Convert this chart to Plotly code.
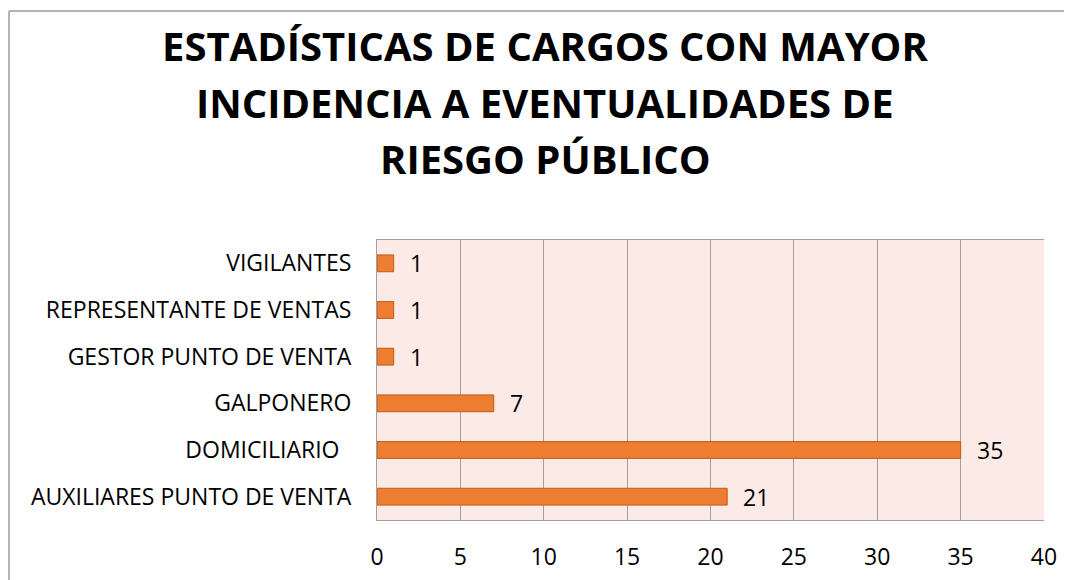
import plotly.graph_objects as go

categories = ["AUXILIARES PUNTO DE VENTA", "DOMICILIARIO\u00a0\u00a0", "GALPONERO",
              "GESTOR PUNTO DE VENTA", "REPRESENTANTE DE VENTAS", "VIGILANTES"]
values = [21, 35, 7, 1, 1, 1]
x_ticks = [0, 5, 10, 15, 20, 25, 30, 35, 40]
title_lines = ["ESTADÍSTICAS DE CARGOS CON MAYOR", "INCIDENCIA A EVENTUALIDADES DE", "RIESGO PÚBLICO"]

FONT = "Open Sans"
W, H = 1072, 580
OFF = 8  # page body margin
L, R, T, B = 369, 36, 232, 68
pw = W - L - R
ph = H - T - B

def px(xs):
    return (xs - OFF - L) / pw

def py(ys):
    return 1 + (T - (ys - OFF)) / ph

fig = go.Figure()
fig.add_trace(go.Bar(
    x=values, y=categories, orientation="h",
    marker=dict(color="#ED7D31", line=dict(color="#C55A11", width=1)),
    width=0.36,
))

for c, v in zip(categories, values):
    fig.add_annotation(x=v, y=c, text=str(v), showarrow=False, xanchor="left",
                       xshift=14, font=dict(family=FONT, size=23, color="#000000"))

# title lines
for line, yc in zip(title_lines, [45, 102, 159]):
    fig.add_annotation(xref="paper", yref="paper", x=px(545), y=py(yc),
                       text=line, showarrow=False, xanchor="center", yanchor="middle",
                       font=dict(family=FONT, size=40, color="#000000", weight="bold"))

# outer chart border (top and left edges visible)
bx = px(9)
by = py(11)
fig.add_shape(type="line", xref="paper", yref="paper", x0=bx, x1=2, y0=by, y1=by,
              line=dict(color="#B3B3B3", width=2))
fig.add_shape(type="line", xref="paper", yref="paper", x0=bx, x1=bx, y0=by, y1=-2,
              line=dict(color="#B3B3B3", width=2))

fig.update_layout(
    width=W, height=H,
    margin=dict(l=L, r=R, t=T, b=B),
    paper_bgcolor="#FFFFFF",
    plot_bgcolor="#FBEAE6",
    showlegend=False,
    font=dict(family=FONT, size=23, color="#000000"),
)
fig.update_xaxes(range=[0, 40], tickvals=x_ticks, ticktext=[str(t) for t in x_ticks],
                 showgrid=True, gridcolor="#A0A0A0", gridwidth=1,
                 showline=True, linecolor="#A0A0A0", linewidth=1, mirror=True,
                 zeroline=False, ticks="", ticklabelstandoff=16,
                 tickfont=dict(family=FONT, size=23), automargin=False)
fig.update_yaxes(showgrid=False, showline=True, linecolor="#A0A0A0", linewidth=1,
                 ticks="", ticklabelstandoff=20, tickfont=dict(family=FONT, size=23),
                 categoryorder="array", categoryarray=categories, automargin=False)

fig.write_html("out.html")
